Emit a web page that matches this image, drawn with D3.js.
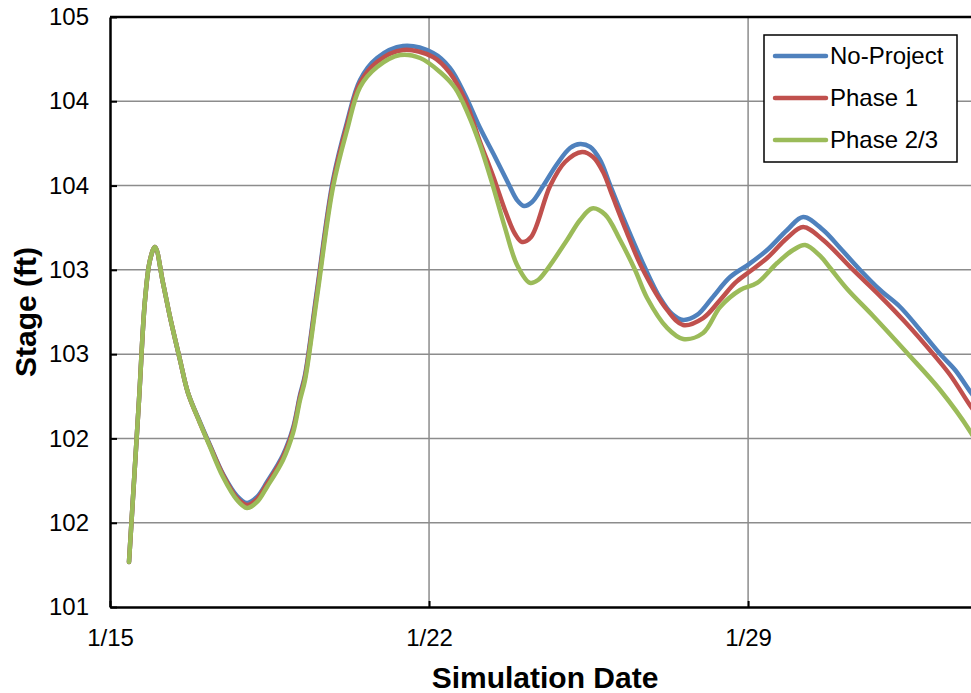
<!DOCTYPE html>
<html>
<head>
<meta charset="utf-8">
<script src="https://cdn.jsdelivr.net/npm/d3@7"></script>
<style>
    body { margin: 0; background: #fff; }
    svg { display: block; font-family: Arial, "Liberation Sans", sans-serif; }
</style>
</head>
<body>
<svg id="chart" width="971" height="693"></svg>
<script>
// series: [days after 1/15, stage ft]
const noProject = [
    [0.417, 101.305], [0.636, 102.403], [0.768, 103.081], [0.878, 103.353], [0.987, 103.441],
    [1.163, 103.197], [1.317, 102.966], [1.536, 102.675], [1.712, 102.451], [1.975, 102.254],
    [2.194, 102.098], [2.480, 101.902], [2.787, 101.753], [3.006, 101.705], [3.226, 101.746],
    [3.445, 101.847], [3.796, 102.031], [4.016, 102.214], [4.169, 102.437], [4.279, 102.573],
    [4.542, 103.149], [4.893, 103.895], [5.201, 104.288], [5.486, 104.573], [5.859, 104.722],
    [6.430, 104.803], [7.088, 104.756], [7.461, 104.654], [7.790, 104.471], [8.119, 104.247],
    [8.448, 104.051], [8.734, 103.875], [8.931, 103.759], [9.085, 103.719], [9.260, 103.746],
    [9.502, 103.854], [9.809, 104.003], [10.094, 104.112], [10.314, 104.139], [10.533, 104.119],
    [10.752, 104.031], [10.972, 103.861], [11.301, 103.610], [11.740, 103.298], [12.069, 103.095],
    [12.332, 102.986], [12.574, 102.946], [12.881, 102.980], [13.210, 103.095], [13.605, 103.237],
    [14.022, 103.325], [14.417, 103.420], [14.856, 103.556], [15.207, 103.644], [15.646, 103.556],
    [16.019, 103.434], [16.458, 103.285], [16.897, 103.149], [17.336, 103.034], [17.774, 102.878],
    [18.213, 102.715], [18.542, 102.607], [18.894, 102.451], [19.0, 102.410]
];

const phase1 = [
    [0.417, 101.305], [0.636, 102.403], [0.768, 103.081], [0.878, 103.353], [0.987, 103.441],
    [1.163, 103.197], [1.317, 102.966], [1.536, 102.675], [1.712, 102.451], [1.975, 102.247],
    [2.194, 102.092], [2.480, 101.895], [2.787, 101.739], [3.006, 101.692], [3.226, 101.732],
    [3.445, 101.834], [3.796, 102.017], [4.016, 102.200], [4.169, 102.424], [4.279, 102.559],
    [4.542, 103.129], [4.893, 103.875], [5.201, 104.268], [5.486, 104.553], [5.859, 104.695],
    [6.430, 104.776], [7.088, 104.729], [7.461, 104.620], [7.790, 104.437], [8.119, 104.153],
    [8.404, 103.922], [8.690, 103.671], [8.887, 103.529], [9.041, 103.475], [9.238, 103.508],
    [9.655, 103.854], [9.984, 104.017], [10.358, 104.085], [10.599, 104.051], [10.818, 103.949],
    [11.016, 103.793], [11.301, 103.569], [11.674, 103.298], [12.223, 103.014], [12.574, 102.912],
    [13.013, 102.959], [13.386, 103.081], [13.715, 103.197], [14.022, 103.271], [14.417, 103.366],
    [14.856, 103.502], [15.207, 103.576], [15.646, 103.488], [16.304, 103.285], [16.897, 103.108],
    [17.445, 102.932], [18.060, 102.715], [18.433, 102.573], [18.894, 102.356], [19.0, 102.315]
];

const phase23 = [
    [0.417, 101.305], [0.636, 102.403], [0.768, 103.081], [0.878, 103.353], [0.987, 103.441],
    [1.163, 103.197], [1.317, 102.966], [1.536, 102.675], [1.712, 102.451], [1.975, 102.247],
    [2.194, 102.085], [2.480, 101.881], [2.787, 101.725], [3.006, 101.671], [3.226, 101.712],
    [3.445, 101.814], [3.796, 101.997], [4.016, 102.180], [4.169, 102.403], [4.279, 102.539],
    [4.542, 103.102], [4.893, 103.847], [5.201, 104.234], [5.486, 104.525], [5.859, 104.661],
    [6.364, 104.742], [6.803, 104.722], [7.241, 104.627], [7.571, 104.519], [7.856, 104.342],
    [8.119, 104.132], [8.382, 103.875], [8.668, 103.569], [8.931, 103.319], [9.216, 103.197],
    [9.392, 103.217], [9.611, 103.298], [10.028, 103.488], [10.314, 103.624], [10.577, 103.702],
    [10.862, 103.661], [11.191, 103.488], [11.520, 103.285], [11.784, 103.095], [12.223, 102.892],
    [12.574, 102.817], [13.013, 102.858], [13.386, 103.034], [13.825, 103.149], [14.198, 103.197],
    [14.637, 103.332], [14.988, 103.420], [15.251, 103.454], [15.580, 103.380], [15.800, 103.298],
    [16.173, 103.156], [16.743, 102.973], [17.489, 102.722], [18.213, 102.471], [18.894, 102.180],
    [19.0, 102.119]
];

const seriesNames = ['No-Project', 'Phase 1', 'Phase 2/3'];
const seriesColors = ['#4f81bd', '#c0504d', '#9bbb59'];

// axis ticks (labels rounded to whole feet, as in the source chart)
const yTickValues = [101, 101.571, 102.143, 102.714, 103.286, 103.857, 104.429, 105];
const yTickLabels = ['101', '102', '102', '103', '103', '104', '104', '105'];
const xTickValues = [0, 7, 14];
const xTickLabels = ['1/15', '1/22', '1/29'];

const svg = d3.select('#chart');

const margin = {top: 17, left: 110, bottom: 86};
const plotRight = 976; // plot runs slightly past the picture edge
const plotBottom = 693 - margin.bottom;

const xScale = d3.scaleLinear()
    .domain([0, 19])
    .range([margin.left, plotRight]);

const yScale = d3.scaleLinear()
    .domain([101, 105])
    .range([plotBottom, margin.top]);

// gridlines
svg.append('g')
    .selectAll('line')
    .data(yTickValues.slice(1, -1))
    .join('line')
    .attr('x1', margin.left).attr('x2', plotRight)
    .attr('y1', d => yScale(d)).attr('y2', d => yScale(d))
    .attr('stroke', '#8c8c8c').attr('stroke-width', 1.5);

svg.append('g')
    .selectAll('line')
    .data(xTickValues.slice(1))
    .join('line')
    .attr('x1', d => xScale(d)).attr('x2', d => xScale(d))
    .attr('y1', margin.top).attr('y2', plotBottom)
    .attr('stroke', '#8c8c8c').attr('stroke-width', 1.5);

// y axis with inside ticks
const yAxis = svg.append('g')
    .attr('transform', `translate(${margin.left},0)`)
    .call(d3.axisRight(yScale)
        .tickValues(yTickValues)
        .tickFormat((d, i) => yTickLabels[i])
        .tickSize(7)
        .tickSizeOuter(0));
yAxis.select('.domain').attr('stroke', '#000').attr('stroke-width', 2.5);
yAxis.selectAll('.tick line').attr('stroke', '#000').attr('stroke-width', 2);
yAxis.selectAll('.tick text')
    .attr('x', -21)
    .attr('text-anchor', 'end')
    .attr('font-size', 24)
    .attr('fill', '#000');

// x axis with inside ticks
const xAxis = svg.append('g')
    .attr('transform', `translate(0,${plotBottom})`)
    .call(d3.axisTop(xScale)
        .tickValues(xTickValues)
        .tickFormat((d, i) => xTickLabels[i])
        .tickSize(6)
        .tickSizeOuter(0));
xAxis.select('.domain').attr('stroke', '#000').attr('stroke-width', 2.5);
xAxis.selectAll('.tick line').attr('stroke', '#000').attr('stroke-width', 2);
xAxis.selectAll('.tick text')
    .attr('y', 39)
    .attr('dy', 0)
    .attr('font-size', 24)
    .attr('fill', '#000');

// top border of the plot area
svg.append('line')
    .attr('x1', margin.left).attr('x2', plotRight)
    .attr('y1', margin.top).attr('y2', margin.top)
    .attr('stroke', '#000').attr('stroke-width', 2.5);

// series lines
const line = d3.line()
    .x(d => xScale(d[0]))
    .y(d => yScale(d[1]))
    .curve(d3.curveCatmullRom.alpha(0.5));

[noProject, phase1, phase23].forEach((series, i) => {
    svg.append('path')
        .datum(series)
        .attr('fill', 'none')
        .attr('stroke', seriesColors[i])
        .attr('stroke-width', 4.5)
        .attr('stroke-linejoin', 'round')
        .attr('stroke-linecap', 'round')
        .attr('d', line);
});

// axis titles
svg.append('text')
    .attr('x', 545)
    .attr('y', 688)
    .attr('text-anchor', 'middle')
    .attr('font-size', 30)
    .attr('font-weight', 'bold')
    .text('Simulation Date');

svg.append('text')
    .attr('transform', 'translate(36,312) rotate(-90)')
    .attr('text-anchor', 'middle')
    .attr('font-size', 30)
    .attr('font-weight', 'bold')
    .text('Stage (ft)');

// legend
const legend = svg.append('g').attr('transform', 'translate(764,35)');
legend.append('rect')
    .attr('width', 193).attr('height', 127)
    .attr('fill', '#fff')
    .attr('stroke', '#000').attr('stroke-width', 1.5);

const legendItems = legend.selectAll('.item')
    .data(seriesNames)
    .join('g')
    .attr('class', 'item')
    .attr('transform', (d, i) => `translate(0,${21 + i * 42})`);

legendItems.append('line')
    .attr('x1', 11).attr('x2', 62)
    .attr('stroke', (d, i) => seriesColors[i])
    .attr('stroke-width', 4.5)
    .attr('stroke-linecap', 'round');

legendItems.append('text')
    .attr('x', 66)
    .attr('dy', '0.35em')
    .attr('font-size', 24)
    .text(d => d);
</script>
</body>
</html>
